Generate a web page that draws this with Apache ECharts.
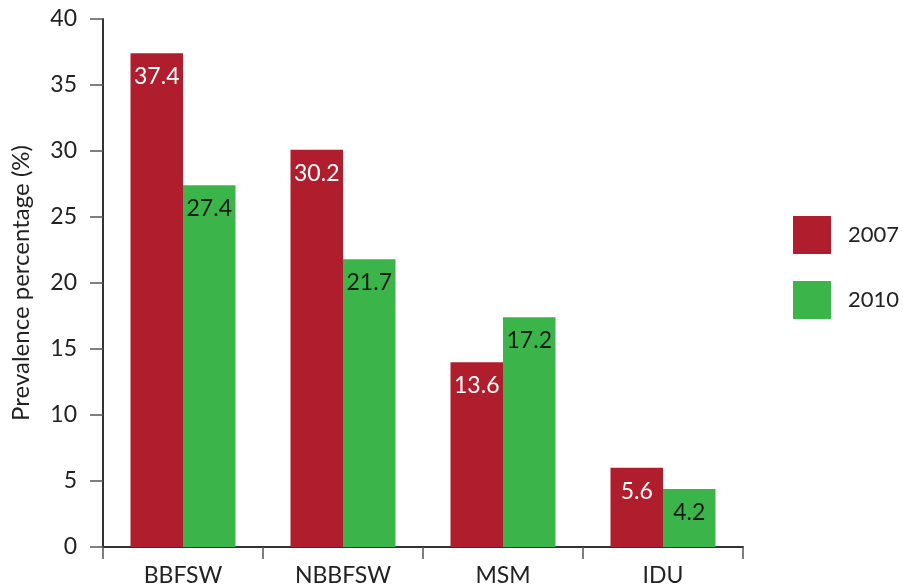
<!DOCTYPE html>
<html>
<head>
<meta charset="utf-8">
<script src="https://cdn.jsdelivr.net/npm/echarts@6/dist/echarts.min.js"></script>
<style>html,body{margin:0;padding:0;background:#fff}#c{width:903px;height:587px}</style>
</head>
<body>
<div id="c"></div>
<script>
const categories = ['BBFSW', 'NBBFSW', 'MSM', 'IDU'];
const seriesNames = ['2007', '2010'];
const heights2007 = [37.4, 30.1, 14.0, 6.0];
const heights2010 = [27.4, 21.8, 17.4, 4.4];
const labels2007 = ['37.4', '30.2', '13.6', '5.6'];
const labels2010 = ['27.4', '21.7', '17.2', '4.2'];
const yTicks = [0, 5, 10, 15, 20, 25, 30, 35, 40];

const FONT = 'Lato';
const chart = echarts.init(document.getElementById('c'), null, {renderer: 'canvas'});
function mk(name, heights, labels, color, labelColor) {
  return {
    name: name, type: 'bar', barWidth: 52.5, barGap: '0%',
    itemStyle: {color: color},
    data: heights,
    label: {
      show: true, position: 'insideTop', distance: 12,
      color: labelColor, fontFamily: FONT, fontSize: 23,
      formatter: function (p) { return labels[p.dataIndex]; }
    }
  };
}
chart.setOption({
  animation: false,
  textStyle: {fontFamily: FONT},
  grid: {left: 103, right: 160, top: 19, bottom: 39, containLabel: false},
  legend: {
    orient: 'vertical', left: 788, top: 211,
    itemWidth: 38, itemHeight: 38, itemGap: 27,
    icon: 'rect',
    textStyle: {fontFamily: FONT, fontSize: 22, color: '#222', padding: [0,0,0,12]},
    data: seriesNames
  },
  xAxis: {
    type: 'category', data: categories,
    axisLine: {lineStyle: {color: '#333', width: 2}},
    axisTick: {show: true, length: 12, lineStyle: {color: '#555', width: 1.5}},
    axisLabel: {fontFamily: FONT, fontSize: 23, color: '#222', margin: 17}
  },
  yAxis: {
    type: 'value', min: yTicks[0], max: yTicks[yTicks.length - 1], interval: 5,
    name: 'Prevalence percentage (%)', nameLocation: 'middle', nameGap: 70,
    nameTextStyle: {fontFamily: FONT, fontSize: 24, color: '#222'},
    splitLine: {show: false},
    axisLine: {show: true, lineStyle: {color: '#333', width: 2}},
    axisTick: {show: true, length: 13, lineStyle: {color: '#555', width: 1.5}},
    axisLabel: {fontFamily: FONT, fontSize: 23, color: '#222', margin: 26}
  },
  series: [
    mk(seriesNames[0], heights2007, labels2007, '#B01E2D', '#ffffff'),
    mk(seriesNames[1], heights2010, labels2010, '#3BB54A', '#1a1a1a')
  ]
});
</script>
</body>
</html>
